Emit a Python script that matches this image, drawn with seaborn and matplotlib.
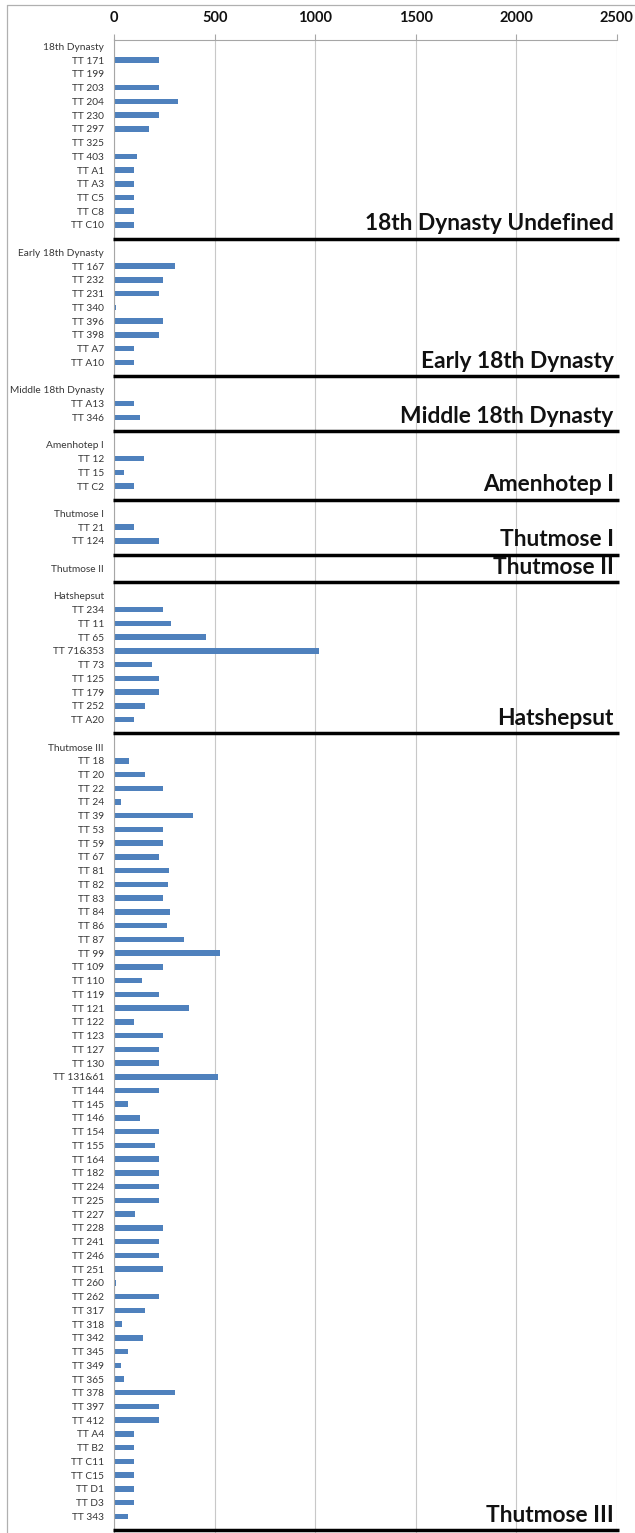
import matplotlib
matplotlib.use("Agg")
import matplotlib.pyplot as plt
import matplotlib.lines as mlines
import numpy as np
import pandas as pd
import seaborn as sns

# Reign / period names: left header label and right-hand section title
period_headers = ["18th Dynasty", "Early 18th Dynasty", "Middle 18th Dynasty",
                  "Amenhotep I", "Thutmose I", "Thutmose II", "Hatshepsut",
                  "Thutmose III"]
period_titles = ["18th Dynasty Undefined", "Early 18th Dynasty",
                 "Middle 18th Dynasty", "Amenhotep I", "Thutmose I",
                 "Thutmose II", "Hatshepsut", "Thutmose III"]

# Tombs and values per period
tombs_18th = ["TT 171", "TT 199", "TT 203", "TT 204", "TT 230", "TT 297",
              "TT 325", "TT 403", "TT A1", "TT A3", "TT C5", "TT C8", "TT C10"]
values_18th = [220, 0, 220, 315, 220, 175, 0, 115, 100, 100, 100, 100, 100]

tombs_early = ["TT 167", "TT 232", "TT 231", "TT 340", "TT 396", "TT 398",
               "TT A7", "TT A10"]
values_early = [300, 240, 220, 8, 240, 220, 100, 100]

tombs_middle = ["TT A13", "TT 346"]
values_middle = [100, 130]

tombs_amenhotep1 = ["TT 12", "TT 15", "TT C2"]
values_amenhotep1 = [150, 50, 100]

tombs_thutmose1 = ["TT 21", "TT 124"]
values_thutmose1 = [100, 220]

tombs_thutmose2 = []
values_thutmose2 = []

tombs_hatshepsut = ["TT 234", "TT 11", "TT 65", "TT 71&353", "TT 73",
                    "TT 125", "TT 179", "TT 252", "TT A20"]
values_hatshepsut = [240, 280, 455, 1020, 190, 220, 220, 155, 100]

tombs_thutmose3 = ["TT 18", "TT 20", "TT 22", "TT 24", "TT 39", "TT 53",
                   "TT 59", "TT 67", "TT 81", "TT 82", "TT 83", "TT 84",
                   "TT 86", "TT 87", "TT 99", "TT 109", "TT 110", "TT 119",
                   "TT 121", "TT 122", "TT 123", "TT 127", "TT 130",
                   "TT 131&61", "TT 144", "TT 145", "TT 146", "TT 154",
                   "TT 155", "TT 164", "TT 182", "TT 224", "TT 225",
                   "TT 227", "TT 228", "TT 241", "TT 246", "TT 251",
                   "TT 260", "TT 262", "TT 317", "TT 318", "TT 342",
                   "TT 345", "TT 349", "TT 365", "TT 378", "TT 397",
                   "TT 412", "TT A4", "TT B2", "TT C11", "TT C15", "TT D1",
                   "TT D3", "TT 343"]
values_thutmose3 = [75, 155, 240, 35, 390, 240, 240, 220, 270, 268, 240, 275,
                    260, 345, 525, 240, 140, 220, 370, 100, 240, 220, 220,
                    515, 220, 70, 130, 220, 205, 220, 220, 220, 220, 105,
                    240, 220, 220, 240, 8, 220, 155, 40, 145, 70, 35, 50,
                    300, 220, 220, 100, 100, 100, 100, 100, 100, 70]

x_ticks = [0, 500, 1000, 1500, 2000, 2500]

groups = [
    (tombs_18th, values_18th),
    (tombs_early, values_early),
    (tombs_middle, values_middle),
    (tombs_amenhotep1, values_amenhotep1),
    (tombs_thutmose1, values_thutmose1),
    (tombs_thutmose2, values_thutmose2),
    (tombs_hatshepsut, values_hatshepsut),
    (tombs_thutmose3, values_thutmose3),
]

# Build the row table: header row, tomb rows, then a blank divider row
labels, values, divider_rows = [], [], []
for header, (tombs, vals) in zip(period_headers, groups):
    labels.append(header)
    values.append(np.nan)
    labels.extend(tombs)
    values.extend(vals)
    divider_rows.append(len(labels))
    labels.append("")
    values.append(np.nan)

df = pd.DataFrame({"row": np.arange(len(labels)), "label": labels,
                   "value": values})
n_rows = len(df)

sns.set_style("white")
plt.rcParams["font.family"] = ["Lato", "DejaVu Sans"]

W, H, DPI = 635, 1533, 100
fig = plt.figure(figsize=(W / DPI, H / DPI), dpi=DPI)

ax_left, ax_right = 114.3, 616.7
ax_top, ax_bottom = 39.5, 1537.0
ax = fig.add_axes([ax_left / W, 1 - ax_bottom / H,
                   (ax_right - ax_left) / W, (ax_bottom - ax_top) / H])

sns.barplot(data=df, x="value", y="row", orient="h", order=list(df["row"]),
            color="#4F81BD", saturation=1, width=0.4, ax=ax,
            edgecolor="none", linewidth=0, errorbar=None)

ax.set_xlim(0, 2500)
ax.set_ylim(n_rows - 0.5, -0.5)
ax.set_xlabel("")
ax.set_ylabel("")

# value axis on top
ax.xaxis.tick_top()
ax.set_xticks(x_ticks)
ax.set_xticklabels([str(t) for t in x_ticks], fontsize=10.5,
                   fontweight="bold", color="#111111")
ax.tick_params(axis="x", which="major", direction="out", length=4.5,
               width=0.8, color="#a6a6a6", pad=6, top=True, bottom=False)
ax.grid(axis="x", color="#c8c8c8", linewidth=0.8)
ax.grid(axis="y", visible=False)
ax.set_axisbelow(True)

# category axis
ax.set_yticks(df["row"])
ax.set_yticklabels(df["label"], fontsize=7.3, color="#363636")
ax.set_yticks(np.arange(n_rows + 1) - 0.5, minor=True)
ax.tick_params(axis="y", which="major", length=0, pad=7.5)
ax.tick_params(axis="y", which="minor", direction="out", length=2.2,
               width=0.7, color="#b0b0b0")

for side in ["right", "bottom"]:
    ax.spines[side].set_visible(False)
for side in ["top", "left"]:
    ax.spines[side].set_color("#a6a6a6")
    ax.spines[side].set_linewidth(0.8)

# section dividers with period titles
for row, title in zip(divider_rows, period_titles):
    ax.plot([-8, 2510], [row, row], color="black", linewidth=2.5,
            solid_capstyle="butt", clip_on=False, zorder=5)
    ax.text(2485, row - 0.62, title, ha="right", va="baseline",
            fontsize=16.4, fontweight="bold", color="#111111", zorder=6)

# chart area border
fig.add_artist(mlines.Line2D([7 / W, 7 / W], [0, 1 - 5 / H],
                             transform=fig.transFigure, color="#b0b0b0",
                             linewidth=0.9))
fig.add_artist(mlines.Line2D([7 / W, 1], [1 - 5 / H, 1 - 5 / H],
                             transform=fig.transFigure, color="#b0b0b0",
                             linewidth=0.9))

fig.savefig("out.png", dpi=DPI, facecolor="white")
